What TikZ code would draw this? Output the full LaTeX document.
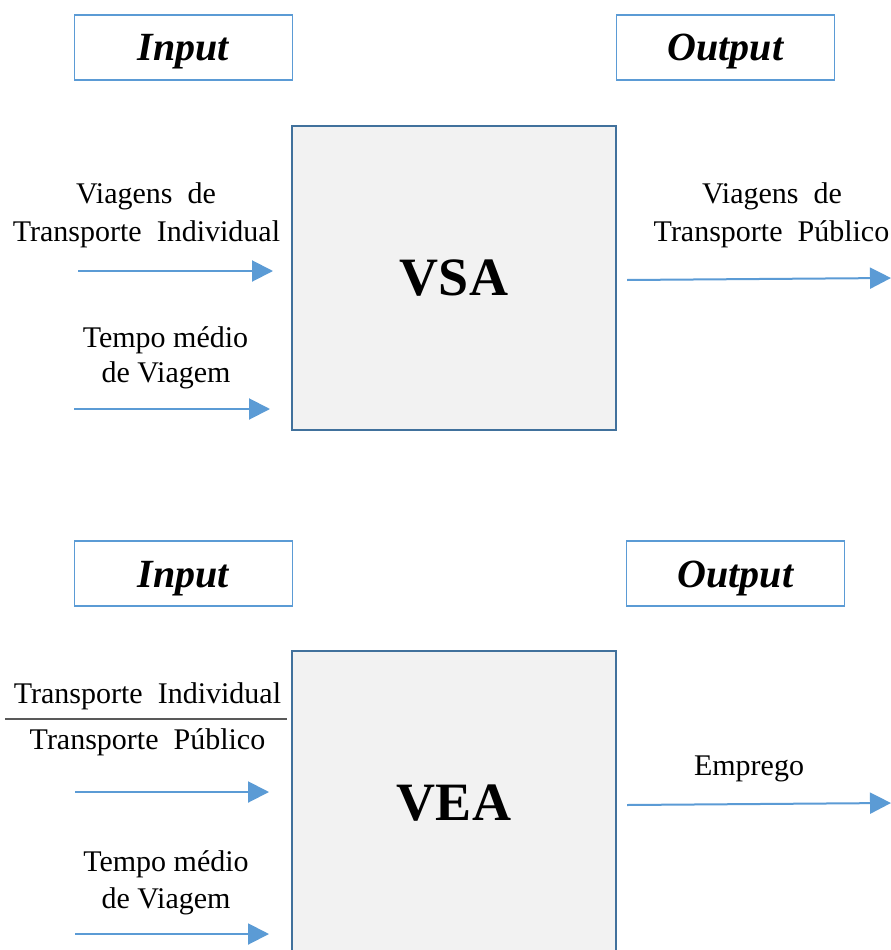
\documentclass[tikz,border=0pt]{standalone}
\usepackage{fontspec}
\setmainfont{Liberation Serif}
\usetikzlibrary{arrows.meta}
\definecolor{arrblue}{HTML}{5B9BD5}
\definecolor{boxline}{HTML}{41719C}
\definecolor{boxfill}{HTML}{F2F2F2}
\definecolor{ruleg}{HTML}{595959}
\begin{document}
\begin{tikzpicture}[x=1pt,y=-1pt,
  lbl/.style={font=\fontsize{30}{38}\selectfont, inner sep=0pt, anchor=base},
  iobox/.style={draw=arrblue, line width=1.8pt, minimum width=218pt, minimum height=65pt,
    inner sep=0pt, text height=27pt, text depth=0pt,
    font=\fontsize{40}{48}\selectfont\bfseries\itshape},
  bigbox/.style={draw=boxline, fill=boxfill, line width=1.6pt, minimum width=324pt,
    minimum height=304pt, inner sep=0pt, font=\fontsize{54}{60}\selectfont\bfseries},
  flow/.style={draw=arrblue, line width=2pt, -{Triangle[length=21pt,width=21pt]}}]
\useasboundingbox (0,0) rectangle (891,950);
\clip (0,0) rectangle (891,950);
\fill[white] (0,0) rectangle (891,950);

% ---------- top: VSA ----------
\node[iobox] (in1) at (183.5,47.5) {Input};
\node[iobox] (out1) at (725.5,47.5) {Output};
\node[bigbox] (vsa) at (454,278) {VSA};

\node[lbl] (l1a) at (146,203) {Viagens~ de};
\node[lbl] (l1b) at (146.5,241) {Transporte~ Individual};
\coordinate (a1s) at (78,271);
\coordinate (a1e) at (273,271);
\draw[flow] (a1s) -- (a1e);

\node[lbl] (l2a) at (165.5,347) {Tempo médio};
\node[lbl] (l2b) at (166,382) {de Viagem};
\coordinate (a2s) at (74,409);
\coordinate (a2e) at (270,409);
\draw[flow] (a2s) -- (a2e);

\node[lbl] (r1a) at (772,203) {Viagens~ de};
\node[lbl] (r1b) at (771.5,241) {Transporte~ Público};
\coordinate (a3s) at (627,280);
\coordinate (a3e) at (891,278);
\draw[flow] (a3s) -- (a3e);

% ---------- bottom: VEA ----------
\node[iobox] (in2) at (183.5,573.5) {Input};
\node[iobox] (out2) at (735.5,573.5) {Output};
\node[bigbox] (vea) at (454,803) {VEA};

\node[lbl] (b1a) at (147.5,703) {Transporte~ Individual};
\coordinate (fr1) at (5,719);
\coordinate (fr2) at (287,719);
\draw[ruleg, line width=1.3pt] (fr1) -- (fr2);
\node[lbl] (b1b) at (147.5,749) {Transporte~ Público};
\coordinate (a4s) at (75,792);
\coordinate (a4e) at (269,792);
\draw[flow] (a4s) -- (a4e);

\node[lbl] (b2a) at (166,871) {Tempo médio};
\node[lbl] (b2b) at (166,908) {de Viagem};
\coordinate (a5s) at (75,934);
\coordinate (a5e) at (269,934);
\draw[flow] (a5s) -- (a5e);

\node[lbl] (emp) at (749,775) {Emprego};
\coordinate (a6s) at (627,805);
\coordinate (a6e) at (891,803);
\draw[flow] (a6s) -- (a6e);
\end{tikzpicture}
\end{document}
